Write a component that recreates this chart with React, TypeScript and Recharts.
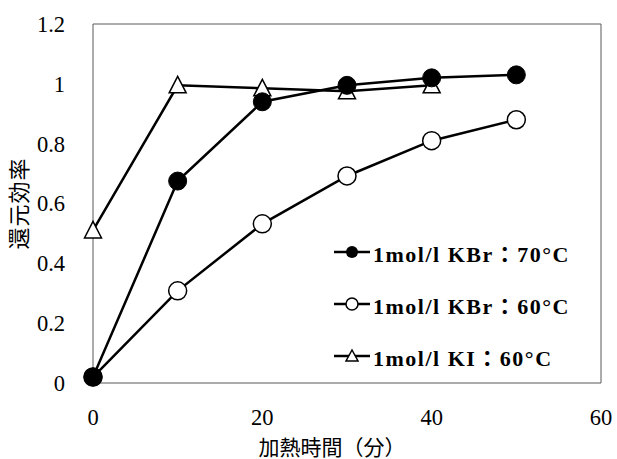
import React from "react";
import { LineChart, Line, XAxis, YAxis, ReferenceArea, Label } from "recharts";

const times = [0, 10, 20, 30, 40, 50];
const kbr70 = [0.02, 0.675, 0.94, 0.995, 1.02, 1.03];
const kbr60 = [0.02, 0.308, 0.532, 0.692, 0.81, 0.88];
const ki60 = [0.51, 0.995, 0.985, 0.975, 0.995];
const xTicks = [0, 20, 40, 60];
const yTicks = [0, 0.2, 0.4, 0.6, 0.8, 1, 1.2];
const seriesNames = ["1mol/l KBr：70°C", "1mol/l KBr：60°C", "1mol/l KI：60°C"];
const xTitle = "加熱時間（分）";
const yTitle = "還元効率";

const data = times.map((t, i) => ({ t, a: kbr70[i], b: kbr60[i], c: ki60[i] }));

const FONT = "Liberation Serif, Noto Sans CJK JP, serif";

const FilledDot = (p: any) =>
  p.cx == null || p.cy == null ? null : <circle cx={p.cx} cy={p.cy} r={9} fill="#000" stroke="#000" strokeWidth={1} />;
const HollowDot = (p: any) =>
  p.cx == null || p.cy == null ? null : <circle cx={p.cx} cy={p.cy} r={9} fill="#fff" stroke="#000" strokeWidth={1.5} />;
const TriDot = (p: any) =>
  p.cx == null || p.cy == null ? null : (
    <polygon
      points={`${p.cx},${p.cy - 9} ${p.cx - 8.5},${p.cy + 7.5} ${p.cx + 8.5},${p.cy + 7.5}`}
      fill="#fff"
      stroke="#000"
      strokeWidth={1.5}
    />
  );

const LegendMarker = ({ kind }: { kind: number }) => {
  const cx = 18, cy = 10;
  return (
    <svg width={39} height={20} style={{ display: "block" }}>
      <line x1={0} y1={cy} x2={36} y2={cy} stroke="#000" strokeWidth={2.5} />
      {kind === 0 && <circle cx={cx} cy={cy} r={6} fill="#000" />}
      {kind === 1 && <circle cx={cx} cy={cy} r={6} fill="#fff" stroke="#000" strokeWidth={1.5} />}
      {kind === 2 && (
        <polygon points={`${cx},${cy - 6} ${cx - 6},${cy + 5} ${cx + 6},${cy + 5}`} fill="#fff" stroke="#000" strokeWidth={1.5} />
      )}
    </svg>
  );
};

export default function App() {
  return (
    <div style={{ position: "absolute", left: 0, top: 0, width: 617, height: 459, background: "#fff", fontFamily: FONT }}>
      <style>{`.recharts-wrapper text, .recharts-text { font-family: 'Liberation Serif', 'Noto Sans CJK JP', serif !important; }`}</style>
      <LineChart width={617} height={459} data={data} margin={{ top: 24, right: 16, left: 0, bottom: 0 }} style={{ fontFamily: FONT }}>
        <XAxis
          dataKey="t"
          type="number"
          domain={[0, 60]}
          ticks={xTicks}
          axisLine={false}
          tickLine={false}
          tickMargin={20}
          height={76}
          tick={{ fill: "#000", fontSize: 22.5, fontFamily: FONT }}
        >
          <Label value={xTitle} position="insideBottom" offset={4} dx={-15} style={{ fill: "#000", fontSize: 21, fontFamily: FONT }} />
        </XAxis>
        <YAxis
          type="number"
          domain={[0, 1.2]}
          ticks={yTicks}
          axisLine={false}
          tickLine={false}
          tickMargin={22}
          width={93}
          tick={{ fill: "#000", fontSize: 22.5, fontFamily: FONT }}
          tickFormatter={(v: number) => String(v)}
        >
          <Label value={yTitle} angle={-90} position="insideLeft" offset={19} style={{ fill: "#000", fontSize: 22, fontFamily: FONT, textAnchor: "middle", letterSpacing: 1 }} />
        </YAxis>
        <ReferenceArea x1={0} x2={60} y1={0} y2={1.2} fill="none" stroke="#595959" strokeWidth={1} ifOverflow="visible" />
        <Line dataKey="c" type="linear" stroke="#000" strokeWidth={2.5} dot={<TriDot />} isAnimationActive={false} />
        <Line dataKey="b" type="linear" stroke="#000" strokeWidth={2.5} dot={<HollowDot />} isAnimationActive={false} />
        <Line dataKey="a" type="linear" stroke="#000" strokeWidth={2.5} dot={<FilledDot />} isAnimationActive={false} />
      </LineChart>
      <div style={{ position: "absolute", left: 334, top: 226 }}>
        {seriesNames.map((n, i) => (
          <div key={n} style={{ display: "flex", alignItems: "center", height: 52 }}>
            <LegendMarker kind={i} />
            <span style={{ fontFamily: FONT, fontWeight: "bold", fontSize: 22, letterSpacing: 1.5, color: "#000", whiteSpace: "nowrap" }}>{n}</span>
          </div>
        ))}
      </div>
    </div>
  );
}
